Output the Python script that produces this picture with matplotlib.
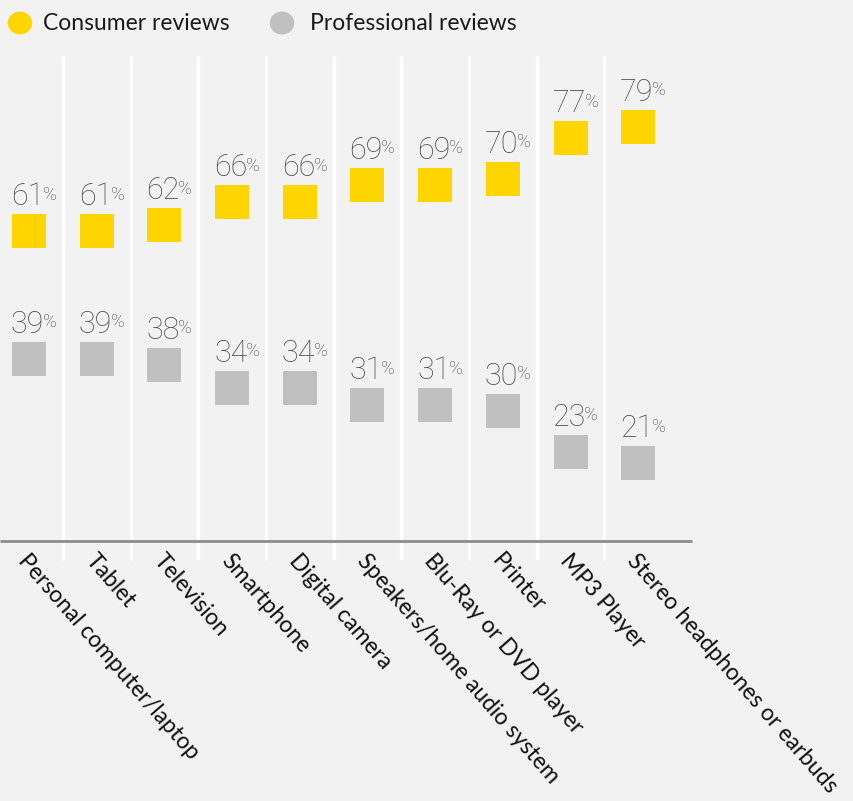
import matplotlib.pyplot as plt

# Data
categories = ["Personal computer/laptop", "Tablet", "Television", "Smartphone",
              "Digital camera", "Speakers/home audio system", "Blu-Ray or DVD player",
              "Printer", "MP3 Player", "Stereo headphones or earbuds"]
consumer = [61, 61, 62, 66, 66, 69, 69, 70, 77, 79]
professional = [39, 39, 38, 34, 34, 31, 31, 30, 23, 21]

yellow = "#ffd500"
grey = "#c0c0c0"
bg = "#f2f2f2"
font = "Lato"
numfont = "Roboto"

fig = plt.figure(figsize=(8.54, 8.01), dpi=100, facecolor=bg)
ax = fig.add_axes([0, 0, 1, 1])
ax.set_facecolor(bg)

# pixel mapping: x = 29 + 67.7*i, y = 585 - 5.8*v
ax.set_xlim(-29 / 67.7, (854 - 29) / 67.7)
ax.set_ylim((585 - 801) / 5.8, 585 / 5.8)
ax.axis("off")

n = len(categories)
xs = list(range(n))

# white separators
for i in range(n - 1):
    ax.plot([i + 0.5, i + 0.5], [(585 - 560) / 5.8, (585 - 56) / 5.8],
            color="white", lw=2.4, solid_capstyle="butt", zorder=1)

# baseline
ax.plot([-29 / 67.7, (692 - 29) / 67.7], [(585 - 540.5) / 5.8] * 2,
        color="#8c8c8c", lw=2, solid_capstyle="butt", zorder=2)

ax.scatter(xs, consumer, marker="s", s=600, color=yellow, linewidths=0, zorder=3)
ax.scatter(xs, professional, marker="s", s=600, color=grey, linewidths=0, zorder=3)

half_w = 17 / 67.7
half_h = 17 / 5.8
gap = 9 / 5.8


def label(x, v):
    t = ax.text(x - half_w - 1 / 67.7, v + half_h + gap, str(v), fontsize=22, color="#4d4d4d",
                family=numfont, fontweight="light", ha="left", va="baseline", zorder=4)
    ax.annotate("%", xy=(1, 1), xycoords=t, xytext=(-1, -2.5), textcoords="offset points",
                fontsize=13.5, color="#4d4d4d", family=numfont, fontweight="light",
                ha="left", va="top", zorder=4)


for x, c, p in zip(xs, consumer, professional):
    label(x, c)
    label(x, p)

# category labels
for x, cat in zip(xs, categories):
    ax.text(x + 1 / 67.7, (585 - 550) / 5.8, cat, rotation=-49, rotation_mode="anchor",
            ha="left", va="top", fontsize=16.5, color="#111111", family=font)

# legend
fig.patches.append(plt.Circle((20 / 854, 1 - 23 / 801), 11.5 / 854, color=yellow,
                              transform=fig.transFigure, figure=fig))
fig.text(43 / 854, 1 - 23 / 801, "Consumer reviews", fontsize=16.5, color="#1a1a1a",
         family=font, ha="left", va="center")
fig.patches.append(plt.Circle((282 / 854, 1 - 23 / 801), 11.5 / 854, color=grey,
                              transform=fig.transFigure, figure=fig))
fig.text(310 / 854, 1 - 23 / 801, "Professional reviews", fontsize=16.5, color="#1a1a1a",
         family=font, ha="left", va="center")

plt.savefig("out.png", dpi=100, facecolor=bg)
